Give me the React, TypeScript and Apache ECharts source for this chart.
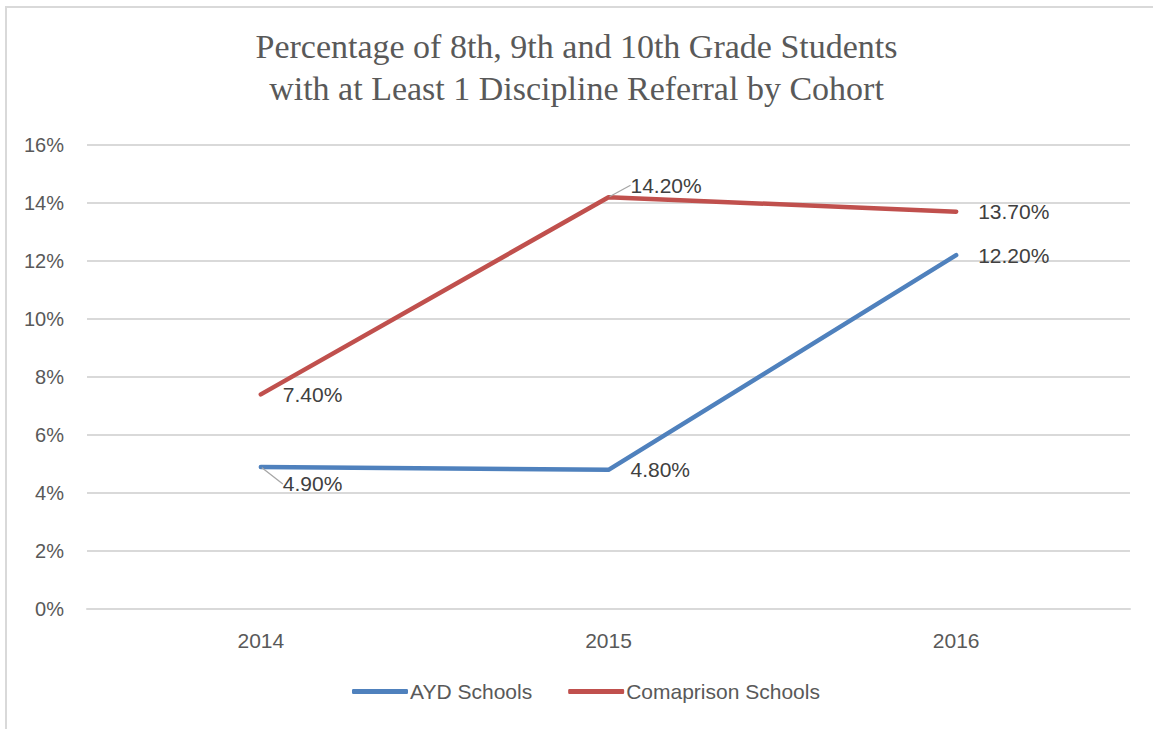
import React, { useEffect, useRef } from "react";
import * as echarts from "echarts";

const categories = ["2014", "2015", "2016"];
const aydValues = [4.9, 4.8, 12.2];
const comparisonValues = [7.4, 14.2, 13.7];
const seriesNames = ["AYD Schools", "Comaprison Schools"];
const titleLines = [
  "Percentage of 8th, 9th and 10th Grade Students",
  "with at Least 1 Discipline Referral by Cohort",
];
// vertical label shifts (px) per data point, matching the reference placement
const aydLabelDy = [17, 0, 0];
const compLabelDy = [0, -12, 0];

const SANS = "'Liberation Sans', Arial, sans-serif";

export default function App() {
  const ref = useRef<HTMLDivElement>(null);
  useEffect(() => {
    if (!ref.current) return;
    const chart = echarts.init(ref.current, null, { renderer: "svg" });
    const mkSeries = (name: string, values: number[], color: string, dys: number[]) => ({
      name,
      type: "line",
      data: values.map((v, i) => ({
        value: v,
        labelLine: { show: dys[i] !== 0 },
      })),
      symbol: "circle",
      symbolSize: 2,
      showSymbol: true,
      lineStyle: { color, width: 4.5, cap: "round", join: "round" },
      itemStyle: { color },
      label: {
        show: true,
        position: "right",
        distance: 21,
        formatter: (p: any) => p.value.toFixed(2) + "%",
        color: "#404040",
        fontFamily: SANS,
        fontSize: 21,
      },
      labelLine: {
        lineStyle: { color: "#a6a6a6", width: 1.3 },
      },
      labelLayout: (p: any) => ({ dy: dys[p.dataIndex] }),
    });
    chart.setOption({
      animation: false,
      backgroundColor: "#ffffff",
      title: {
        text: titleLines.join("\n"),
        left: "center",
        top: 20,
        textStyle: {
          fontFamily: "'Liberation Serif', 'DejaVu Serif', serif",
          fontWeight: "normal",
          fontSize: 34,
          lineHeight: 42,
          color: "#595959",
        },
      },
      grid: { left: 87, right: 23, top: 145, bottom: 120, containLabel: false },
      xAxis: {
        type: "category",
        data: categories,
        boundaryGap: true,
        axisLine: { show: true, lineStyle: { color: "#d9d9d9", width: 2 } },
        axisTick: { show: false },
        axisLabel: { color: "#595959", fontFamily: SANS, fontSize: 21, margin: 21 },
      },
      yAxis: {
        type: "value",
        min: 0,
        max: 16,
        interval: 2,
        axisLine: { show: false },
        axisTick: { show: false },
        splitLine: { lineStyle: { color: "#d9d9d9", width: 2 } },
        axisLabel: {
          color: "#595959",
          fontFamily: SANS,
          fontSize: 20,
          margin: 23,
          formatter: (v: number) => v + "%",
        },
      },
      legend: {
        bottom: 22,
        left: 347,
        itemWidth: 56,
        itemHeight: 5,
        itemGap: 36,
        icon: "roundRect",
        textStyle: { color: "#595959", fontFamily: SANS, fontSize: 21, padding: [0, 0, 0, -3] },
        data: seriesNames,
      },
      series: [
        mkSeries(seriesNames[0], aydValues, "#4f81bd", aydLabelDy),
        mkSeries(seriesNames[1], comparisonValues, "#c0504d", compLabelDy),
      ],
    });
    return () => chart.dispose();
  }, []);
  return (
    <div style={{ position: "fixed", left: 0, top: 0, width: 1153, height: 729, background: "#fff" }}>
      <div ref={ref} style={{ position: "absolute", left: 0, top: 0, width: 1153, height: 729 }} />
      <div
        style={{
          position: "absolute",
          left: 5,
          top: 6,
          right: 0,
          bottom: 0,
          borderLeft: "2px solid #d9d9d9",
          borderTop: "2px solid #d9d9d9",
          pointerEvents: "none",
        }}
      />
    </div>
  );
}
